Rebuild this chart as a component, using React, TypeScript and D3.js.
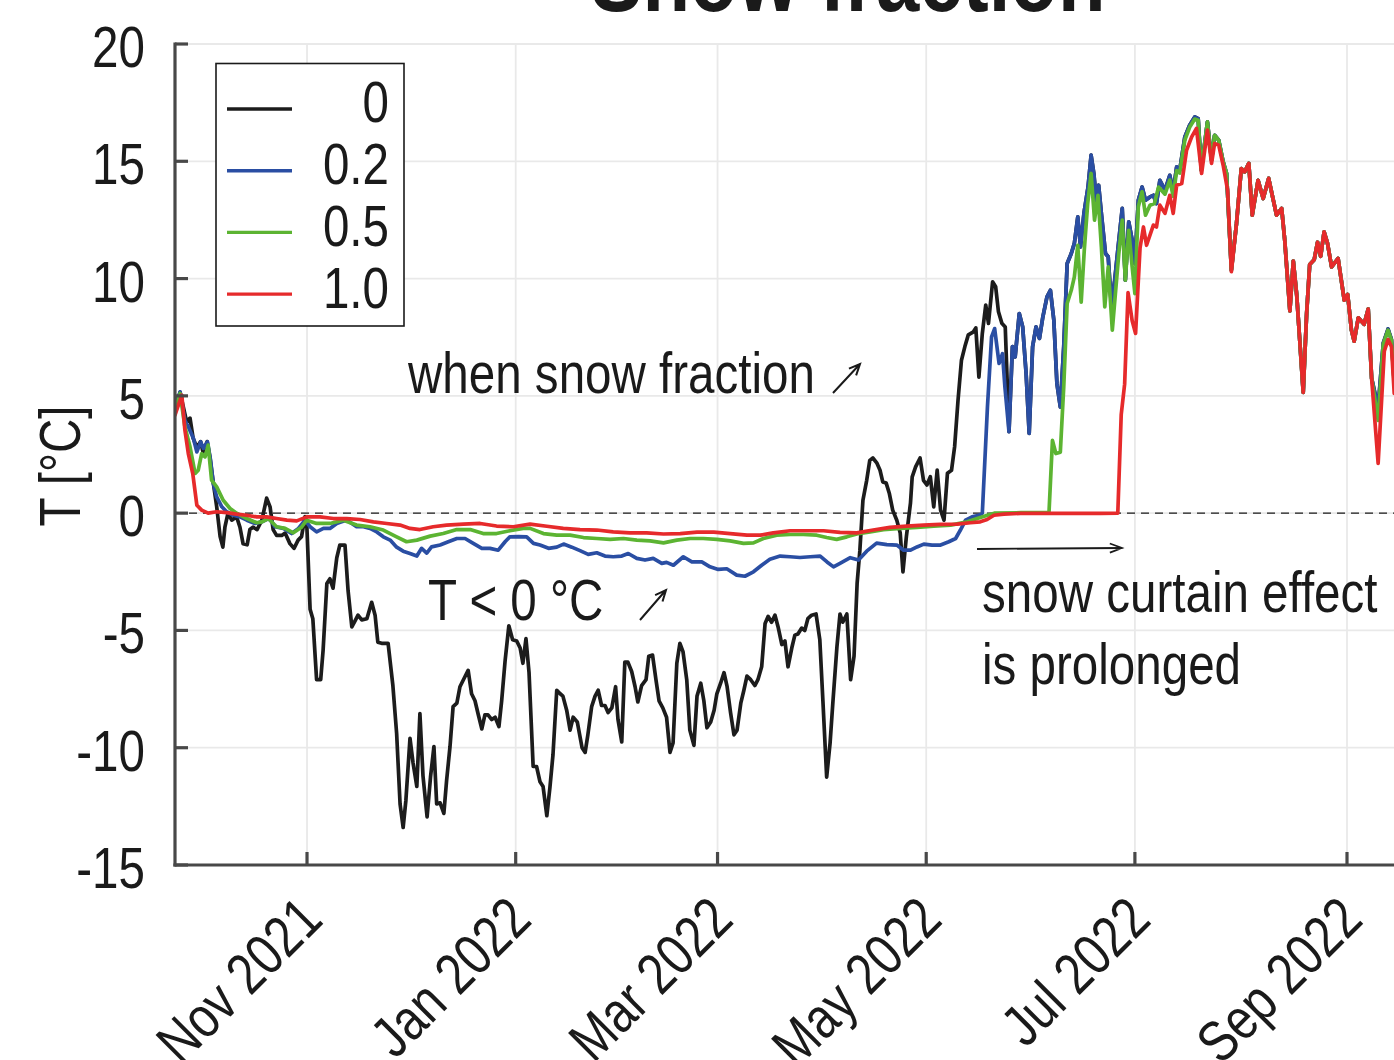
import React from 'react';
import * as d3 from 'd3';

// day offsets are counted from 23 Sep 2021 (UTC)
const DAY0 = Date.UTC(2021, 8, 23);
const toDate = (d: number) => new Date(DAY0 + d * 86400000);

const seriesLabels = ['0', '0.2', '0.5', '1.0'];
const seriesColors = ['#1c1c1c', '#2a4ea3', '#5cb432', '#e62a2b'];
const yTicks = [-15, -10, -5, 0, 5, 10, 15, 20];

type P = [number, number];

// snow fraction 0 (own course until it merges with 0.2 in mid May)
const blackOwn: P[] = [
  [0.4,4.4],[1.9,5.15],[3.8,3.9],[4.8,4.05],[5.7,3.2],[6.8,2.8],[7.9,3.05],[8.6,2.6],[9.8,3.05],[10.6,2.4],[11.5,1.4],[12.6,0.27],[13.6,-1.0],[14.4,-1.45],[15.0,-0.6],[15.9,0.0],[17.0,-0.3],[18.4,-0.15],[19.4,-0.6],[20.3,-1.3],[21.5,-1.35],[22.3,-0.7],[23.2,-0.6],[24.4,-0.7],[25.8,-0.3],[27.2,0.64],[28.2,0.27],[29.1,-0.7],[30.1,-0.95],[31.6,-0.95],[32.6,-0.85],[34.0,-1.3],[35.2,-1.5],[36.4,-1.15],[37.4,-1.0],[38.4,-0.15],[38.9,-0.35],[39.9,-4.1],[40.7,-4.5],[41.8,-7.1],[43.0,-7.1],[43.7,-5.85],[44.8,-3.0],[45.7,-2.8],[46.6,-3.2],[47.7,-1.9],[48.6,-1.36],[50.1,-1.36],[51.0,-3.3],[52.1,-4.85],[53.0,-4.6],[53.9,-4.35],[55.0,-4.55],[56.5,-4.5],[57.9,-3.8],[58.9,-4.35],[59.7,-5.5],[60.8,-5.55],[62.7,-5.55],[64.1,-7.35],[65.2,-9.4],[66.2,-12.4],[67.1,-13.4],[67.9,-12.25],[69.1,-9.6],[70.0,-10.65],[71.1,-11.65],[72.0,-8.55],[72.9,-11.2],[74.1,-12.95],[75.1,-11.25],[76.1,-9.95],[76.9,-12.4],[77.9,-12.35],[79.0,-12.8],[79.8,-11.4],[80.8,-9.95],[81.7,-8.25],[82.8,-8.1],[83.7,-7.4],[84.9,-7.05],[86.1,-6.7],[87.1,-7.7],[88.1,-8.0],[89.0,-8.55],[90.1,-9.2],[91.0,-8.6],[91.9,-8.6],[93.0,-8.8],[94.0,-8.7],[95.1,-9.1],[95.9,-8.0],[96.9,-6.3],[98.0,-4.8],[99.1,-5.4],[100.3,-5.45],[101.3,-5.75],[102.1,-6.4],[103.0,-5.35],[103.9,-6.8],[105.1,-10.8],[106.1,-10.8],[107.1,-11.45],[108.0,-11.65],[109.1,-12.9],[110.0,-11.7],[110.9,-10.3],[112.0,-7.55],[113.0,-7.7],[113.8,-7.8],[114.9,-8.4],[115.9,-9.25],[116.8,-8.7],[118.0,-8.9],[119.4,-10.0],[120.3,-10.2],[121.1,-9.45],[122.2,-8.25],[123.2,-7.8],[124.1,-7.55],[125.1,-8.2],[126.1,-8.2],[127.0,-8.5],[128.1,-8.3],[129.2,-7.4],[129.9,-8.8],[131.0,-9.75],[131.9,-6.35],[132.8,-6.35],[133.9,-6.75],[134.9,-7.4],[135.7,-8.05],[136.8,-7.35],[138.1,-7.1],[138.9,-6.1],[140.0,-6.05],[141.0,-7.1],[141.9,-8.0],[143.0,-8.3],[144.1,-8.7],[145.1,-10.2],[146.0,-9.8],[147.1,-6.4],[148.0,-5.55],[148.9,-5.9],[150.0,-7.1],[150.9,-9.25],[152.1,-9.9],[153.0,-7.8],[154.1,-7.25],[155.0,-8.0],[155.9,-9.15],[157.0,-8.9],[158.0,-8.4],[158.8,-7.7],[159.9,-7.25],[160.9,-6.8],[161.8,-7.4],[162.8,-8.5],[163.8,-9.45],[164.7,-9.25],[165.8,-8.1],[166.7,-7.55],[167.6,-6.95],[168.7,-7.1],[169.9,-7.35],[170.8,-7.1],[171.9,-6.55],[172.9,-4.7],[173.8,-4.4],[174.8,-4.65],[175.8,-4.35],[176.7,-4.85],[177.8,-5.6],[178.7,-5.45],[179.6,-6.55],[180.7,-5.75],[181.6,-5.2],[182.5,-5.15],[183.6,-4.9],[184.5,-5.0],[185.4,-4.5],[186.5,-4.35],[187.8,-4.3],[188.9,-5.4],[189.8,-8.0],[190.9,-11.25],[191.9,-9.8],[192.7,-8.1],[193.9,-5.7],[194.8,-4.3],[195.6,-4.65],[196.8,-4.3],[197.9,-7.1],[198.9,-6.1],[199.8,-3.0],[200.6,-1.6],[201.5,0.55],[202.6,1.4],[203.5,2.25],[204.4,2.35],[205.6,2.13],[206.5,1.83],[207.3,1.33],[208.3,1.28],[209.2,0.85],[210.2,0.13],[211.4,-0.3],[212.4,-0.85],[213.2,-2.5],[214.2,-1.0],[215.4,0.43],[215.9,1.55],[216.9,1.97],[218.2,2.35],[219.2,1.4],[220.2,1.2],[221.2,1.55],[222.2,0.27],[223.2,1.83],[224.2,0.13],[225.2,-0.3],[226.2,1.7],[227.4,1.83],[228.3,2.83],[229.3,4.82],[230.3,6.52],[231.3,7.1],[232.3,7.6],[233.8,7.73],[234.5,7.9],[235.4,5.8],[236.4,7.66],[237.4,8.87],[238.2,8.09],[239.4,9.86],[240.3,9.65],[241.1,8.6],[242.1,8.1],[243.1,7.94]
];

// snow fraction 0.2
const blueOwn: P[] = [
  [0.4,4.53],[1.9,5.17],[3.3,3.96],[4.3,3.68],[5.8,3.18],[6.8,2.61],[7.9,3.04],[8.7,2.76],[9.9,3.04],[10.8,2.26],[11.6,1.27],[12.6,0.69],[14.1,0.27],[15.5,0.06],[17.5,-0.09],[19.4,-0.16],[21.4,-0.3],[23.8,-0.44],[25.8,-0.37],[27.7,-0.23],[28.7,-0.37],[29.6,-0.58],[32.1,-0.65],[34.5,-0.87],[36.5,-0.65],[38.4,-0.3],[39.9,-0.58],[41.8,-0.8],[43.8,-0.65],[45.7,-0.65],[47.7,-0.44],[49.1,-0.37],[50.6,-0.3],[52.1,-0.44],[53.5,-0.58],[55.5,-0.58],[57.4,-0.65],[59.4,-0.8],[61.3,-1.01],[63.3,-1.15],[65.2,-1.45],[67.1,-1.62],[69.1,-1.72],[71.1,-1.83],[72.5,-1.5],[74.0,-1.7],[75.4,-1.44],[77.9,-1.36],[80.3,-1.22],[82.8,-1.08],[85.2,-1.08],[87.6,-1.29],[90.1,-1.5],[92.5,-1.5],[94.9,-1.58],[96.9,-1.22],[98.3,-1.01],[100.8,-1.0],[103.2,-1.01],[105.2,-1.29],[107.1,-1.36],[109.6,-1.5],[112.0,-1.45],[114.0,-1.32],[116.4,-1.45],[118.8,-1.6],[121.2,-1.76],[123.7,-1.69],[126.1,-1.83],[128.5,-1.86],[131.0,-1.83],[132.9,-1.72],[135.4,-1.93],[137.8,-2.0],[140.2,-1.93],[142.7,-2.14],[144.1,-2.1],[146.1,-2.22],[149.0,-1.86],[151.5,-2.08],[154.4,-2.08],[156.8,-2.29],[159.2,-2.4],[161.7,-2.37],[164.6,-2.64],[167.0,-2.69],[169.5,-2.5],[171.9,-2.22],[174.3,-1.97],[177.3,-1.83],[180.2,-1.86],[183.1,-1.89],[186.1,-1.86],[189.0,-1.83],[191.0,-2.08],[192.9,-2.29],[194.8,-2.14],[197.8,-1.9],[200.2,-2.0],[202.6,-1.62],[205.5,-1.28],[208.5,-1.34],[211.4,-1.36],[213.4,-1.58],[215.4,-1.58],[217.3,-1.44],[219.3,-1.32],[221.7,-1.36],[224.2,-1.36],[226.6,-1.22],[228.6,-1.08],[230.0,-0.72],[231.5,-0.3],[233.4,-0.16],[235.4,-0.09],[236.4,0.0],[237.9,4.53],[239.1,7.51],[240.0,7.87],[241.3,6.38],[242.3,6.8],[243.0,5.38],[244.2,3.47],[245.2,7.1],[246.0,6.66],[247.2,8.51],[248.2,7.94],[249.2,5.95],[250.1,3.4],[251.1,7.1],[252.1,7.94],[253.1,7.45],[254.1,8.37],[255.3,9.22],[256.3,9.5],[257.3,8.23],[258.2,5.53],[259.2,4.53],[260.2,7.1],[261.2,10.64],[262.4,11.07],[263.3,11.5],[264.3,12.63],[265.1,11.35],[266.1,12.78],[267.3,13.9],[268.2,15.26],[269.0,14.48],[269.7,13.34],[270.4,13.98],[271.2,12.78],[272.4,11.07],[273.2,10.93],[274.1,8.87],[275.1,9.93],[276.1,11.35],[277.3,12.99],[278.2,9.93],[279.2,12.42],[280.2,11.64],[281.0,10.64],[282.0,13.34],[283.1,13.9],[284.1,13.34],[285.4,13.48],[286.4,13.55],[287.3,13.2],[288.3,14.19],[289.8,13.77],[291.2,14.4],[292.2,13.7],[293.2,14.76],[294.1,14.62],[295.6,16.04],[297.0,16.54],[298.5,16.89],[299.5,16.82],[300.4,14.62],[302.2,16.68],[303.4,15.05],[304.3,16.11],[305.5,15.9],[306.8,14.98],[307.8,14.48],[309.2,10.36]
];

// snow fraction 0.5
const greenOwn: P[] = [
  [0.4,4.39],[1.9,5.1],[3.3,3.68],[4.8,2.83],[6.3,1.69],[7.2,1.83],[8.2,2.54],[9.2,2.4],[10.1,2.9],[11.1,1.41],[12.6,1.12],[14.5,0.55],[16.5,0.2],[18.4,0.0],[21.4,-0.23],[24.3,-0.41],[25.8,-0.37],[27.7,-0.23],[30.1,-0.58],[32.6,-0.65],[35.0,-0.84],[37.4,-0.6],[38.9,-0.3],[41.8,-0.44],[45.7,-0.44],[49.6,-0.3],[53.5,-0.51],[57.4,-0.58],[61.3,-0.72],[65.2,-1.01],[68.1,-1.22],[71.1,-1.15],[75.0,-0.98],[78.8,-0.87],[82.8,-0.7],[86.7,-0.7],[90.5,-0.87],[94.4,-0.87],[98.3,-0.75],[102.2,-0.65],[104.2,-0.65],[108.1,-0.87],[112.0,-0.94],[115.9,-0.94],[119.8,-1.04],[123.7,-1.08],[127.6,-1.12],[131.5,-1.08],[135.4,-1.15],[139.3,-1.18],[143.2,-1.27],[147.1,-1.15],[151.0,-1.08],[154.8,-1.08],[158.8,-1.12],[162.7,-1.18],[166.6,-1.29],[169.5,-1.27],[172.4,-1.08],[176.3,-0.94],[180.2,-0.91],[184.1,-0.91],[188.0,-0.94],[190.9,-1.04],[193.8,-1.12],[196.8,-1.01],[199.7,-0.89],[203.6,-0.8],[207.5,-0.7],[212.4,-0.65],[217.3,-0.61],[222.2,-0.55],[227.1,-0.51],[232.0,-0.37],[234.9,-0.23],[237.9,-0.09],[239.9,0.0],[247.7,0.02],[255.5,0.03],[255.9,0.05],[256.9,3.1],[257.9,2.54],[259.2,2.6],[260.2,5.38],[261.2,8.94],[262.4,9.5],[263.3,10.07],[264.3,11.42],[265.3,9.0],[266.2,11.2],[267.2,13.2],[268.2,14.48],[269.2,12.49],[270.2,13.55],[271.2,11.35],[272.2,8.79],[273.2,10.5],[274.4,7.8],[275.3,9.36],[276.3,11.07],[277.3,12.49],[278.2,9.93],[279.2,12.06],[280.2,10.5],[281.0,9.36],[282.0,13.06],[283.1,13.7],[284.1,12.7],[285.4,13.13],[286.7,13.2],[287.9,13.9],[289.8,13.6],[291.2,14.2],[292.2,13.5],[293.2,14.6],[294.1,14.5],[295.6,15.9],[297.0,16.45],[298.5,16.8],[299.5,16.75]
];

// snow fraction 1.0
const redOwn: P[] = [
  [0.4,4.18],[2.4,5.03],[3.3,3.54],[4.3,2.54],[5.6,1.69],[6.8,0.34],[8.2,0.13],[10.1,0.0],[12.6,0.06],[15.5,0.02],[18.4,-0.04],[21.4,-0.09],[24.3,-0.16],[27.2,-0.16],[30.1,-0.23],[33.1,-0.3],[36.0,-0.33],[38.9,-0.16],[42.8,-0.16],[46.7,-0.23],[50.6,-0.23],[54.5,-0.27],[58.4,-0.37],[62.3,-0.44],[66.2,-0.51],[69.1,-0.65],[72.0,-0.7],[75.9,-0.58],[79.8,-0.51],[84.7,-0.47],[89.6,-0.44],[94.4,-0.55],[99.3,-0.58],[104.2,-0.47],[109.1,-0.56],[113.9,-0.65],[118.8,-0.7],[123.7,-0.72],[128.5,-0.8],[133.4,-0.84],[138.3,-0.84],[143.2,-0.89],[148.1,-0.87],[153.0,-0.81],[157.9,-0.81],[162.7,-0.87],[167.6,-0.94],[171.5,-0.94],[175.3,-0.84],[180.2,-0.75],[185.1,-0.75],[190.0,-0.75],[194.8,-0.82],[199.7,-0.84],[204.5,-0.72],[209.4,-0.61],[214.3,-0.55],[219.2,-0.51],[224.1,-0.48],[229.0,-0.47],[232.9,-0.41],[235.8,-0.37],[237.8,-0.27],[239.8,-0.09],[242.7,-0.04],[247.6,-0.01],[259.3,-0.01],[271.0,-0.01],[276.0,0.0],[277.0,4.2],[278.0,5.5],[279.0,9.4],[280.2,8.2],[281.2,7.66],[282.5,11.3],[283.5,12.2],[284.4,11.42],[286.4,12.28],[287.3,12.2],[288.3,13.13],[289.8,12.78],[291.2,13.55],[292.2,12.78],[293.2,13.98],[294.7,14.05],[296.1,15.47],[297.6,16.04],[299.0,16.4],[300.5,14.48],[302.2,16.33],[303.4,14.91],[304.3,15.76],[305.5,15.69],[306.8,14.83],[308.1,13.77],[309.2,10.29]
];

// late summer: all snow fractions share the same course
const lateShared: P[] = [
  [310.7,12.35],[312.1,14.69],[313.1,14.55],[314.3,14.91],[315.3,12.7],[317.0,14.19],[318.5,13.41],[320.1,14.27],[322.4,12.7],[323.9,12.99],[324.8,11.64],[326.3,8.62],[327.3,10.75],[328.3,9.3],[330.2,5.15],[331.2,8.51],[332.1,10.6],[333.4,10.8],[334.4,11.55],[335.3,10.95],[336.3,11.99],[337.3,11.5],[338.5,10.5],[340.4,10.86],[342.2,9.08],[343.2,9.32],[344.3,7.8],[345.1,7.33],[346.3,8.33],[348.0,8.05],[349.2,8.7],[350.2,5.75]
];

const blueTail: P[] = [[352.1,4.5],[353.6,7.25],[355.0,7.85],[356.0,7.4],[356.8,5.6]];
const greenTail: P[] = [[352.1,3.95],[353.6,7.2],[355.0,7.8],[356.0,7.37],[356.8,5.5]];
const redTail: P[] = [[352.1,2.12],[353.9,6.9],[355.0,7.4],[356.0,7.1],[356.8,5.1]];

const blackData: P[] = [...blackOwn, ...blueOwn.filter(p => p[0] > 243.1), ...lateShared, ...blueTail];
const blueData: P[] = [...blueOwn, ...lateShared, ...blueTail];
const greenData: P[] = [...greenOwn, ...blueOwn.filter(p => p[0] > 299.6), ...lateShared, ...greenTail];
const redData: P[] = [...redOwn, ...lateShared, ...redTail];
const allSeries = [blackData, blueData, greenData, redData];

const FONT = "'Liberation Sans', Arial, Helvetica, sans-serif";
const INK = '#1a1a1a';

function NText(props: { x: number; y: number; rot?: number; anchor?: string; size?: number; weight?: string; children: React.ReactNode }) {
  const { x, y, rot = 0, anchor = 'start', size = 58, weight = 'normal', children } = props;
  return (
    <text
      transform={`translate(${x},${y}) rotate(${rot}) scale(0.82,1)`}
      textAnchor={anchor as any}
      fontFamily={FONT}
      fontSize={size}
      fontWeight={weight}
      fill={INK}
    >
      {children}
    </text>
  );
}

function arrowPath(x1: number, y1: number, x2: number, y2: number, head = 12, ang = 0.42) {
  const a = Math.atan2(y2 - y1, x2 - x1);
  const hx1 = x2 - head * Math.cos(a - ang), hy1 = y2 - head * Math.sin(a - ang);
  const hx2 = x2 - head * Math.cos(a + ang), hy2 = y2 - head * Math.sin(a + ang);
  return `M${x1},${y1}L${x2},${y2}M${hx1},${hy1}L${x2},${y2}L${hx2},${hy2}`;
}

export default function App() {
  const W = 1394, H = 1060;
  const left = 175, top = 44, bottom = 865;
  const pxPerDay = 3.421;
  const d0 = 0.41, d1 = 357.2;
  const right = left + (d1 - d0) * pxPerDay;

  const x = d3.scaleUtc().domain([toDate(d0), toDate(d1)]).range([left, right]);
  const y = d3.scaleLinear().domain([-15, 20]).range([bottom, top]);
  const line = d3.line<P>().x(p => x(toDate(p[0]))).y(p => y(p[1]));
  const xTicks = x.ticks(d3.utcMonth.every(2) as any);
  const fmt = d3.utcFormat('%b %Y');
  const axisColor = '#484848';

  return (
    <svg width={W} height={H} style={{ position: 'absolute', left: 0, top: 0, background: '#fff' }}>
      <defs>
        <clipPath id="plot">
          <rect x={left} y={top - 10} width={right - left} height={bottom - top + 10} />
        </clipPath>
      </defs>
      <rect x={0} y={0} width={W} height={H} fill="#fff" />

      {/* grid */}
      {yTicks.filter(t => t > -15).map(t => (
        <line key={'gy' + t} x1={left} x2={right} y1={y(t)} y2={y(t)} stroke="#e9e9e9" strokeWidth={1.8} />
      ))}
      {xTicks.map(t => (
        <line key={'gx' + t.getTime()} x1={x(t)} x2={x(t)} y1={top} y2={bottom} stroke="#e9e9e9" strokeWidth={1.8} />
      ))}

      {/* zero line */}
      <line x1={left} x2={right} y1={y(0)} y2={y(0)} stroke={INK} strokeWidth={1.4} strokeDasharray="8 6" />

      {/* series */}
      <g clipPath="url(#plot)">
        {allSeries.map((s, i) => (
          <path key={i} d={line(s) || ''} fill="none" stroke={seriesColors[i]} strokeWidth={3.7} strokeLinejoin="round" strokeLinecap="round" />
        ))}
      </g>

      {/* axes */}
      <line x1={left} x2={left} y1={top} y2={bottom} stroke={axisColor} strokeWidth={3.2} strokeLinecap="square" />
      <line x1={left} x2={right} y1={bottom} y2={bottom} stroke={axisColor} strokeWidth={3.2} strokeLinecap="square" />
      {yTicks.map(t => (
        <line key={'ty' + t} x1={left} x2={left + 13} y1={y(t)} y2={y(t)} stroke={axisColor} strokeWidth={3.2} />
      ))}
      {xTicks.map(t => (
        <line key={'tx' + t.getTime()} x1={x(t)} x2={x(t)} y1={bottom} y2={bottom - 13} stroke={axisColor} strokeWidth={3.2} />
      ))}

      {/* tick labels */}
      {yTicks.map(t => (
        <NText key={'ly' + t} x={145} y={y(t) + 23} anchor="end">{String(t)}</NText>
      ))}
      {xTicks.map(t => (
        <NText key={'lx' + t.getTime()} x={x(t) + 18} y={922} rot={-45} anchor="end">{fmt(t)}</NText>
      ))}

      {/* axis title */}
      <NText x={80} y={466} rot={-90} anchor="middle">T [°C]</NText>

      {/* chart title (cut by the top edge) */}
      <NText x={848} y={11} anchor="middle" size={95} weight="bold">Snow fraction</NText>

      {/* legend */}
      <rect x={216} y={63.5} width={188} height={262.5} fill="#fff" stroke={INK} strokeWidth={1.6} />
      {seriesLabels.map((lab, i) => (
        <g key={'lg' + i}>
          <line x1={227} x2={292} y1={109 + i * 61.7} y2={109 + i * 61.7} stroke={seriesColors[i]} strokeWidth={3.4} />
          <NText x={389} y={122 + i * 62} anchor="end">{lab}</NText>
        </g>
      ))}

      {/* annotations */}
      <NText x={408} y={393}>when snow fraction</NText>
      <path d={arrowPath(833, 393, 860, 364)} fill="none" stroke={INK} strokeWidth={2} />
      <NText x={428} y={620}>T &lt; 0 °C</NText>
      <path d={arrowPath(640, 620, 666, 590)} fill="none" stroke={INK} strokeWidth={2} />
      <path d={arrowPath(977, 549, 1122, 548, 13, 0.36)} fill="none" stroke={INK} strokeWidth={1.8} />
      <NText x={982} y={612}>snow curtain effect</NText>
      <NText x={982} y={684}>is prolonged</NText>
    </svg>
  );
}
